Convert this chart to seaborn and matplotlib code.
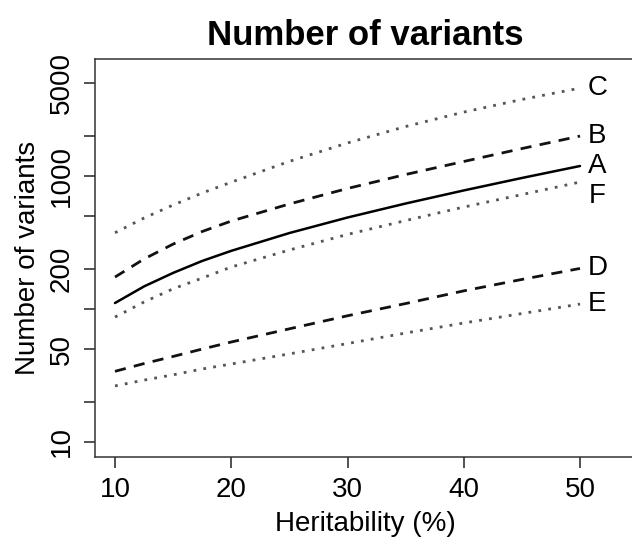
import numpy as np
import matplotlib
matplotlib.use("Agg")
import matplotlib.pyplot as plt
import seaborn as sns
from matplotlib.ticker import FixedLocator, NullLocator

# heritability (%) and number of variants per scenario
heritability = [10, 12.5, 15, 17.5, 20, 25, 30, 35, 40, 45, 50]
series_a = [111, 148, 187, 230, 274, 373, 488, 622, 780, 968, 1191]
series_b = [174, 238, 308, 383, 459, 617, 807, 1028, 1288, 1611, 2000]
series_c = [375, 484, 606, 746, 900, 1290, 1775, 2360, 3030, 3770, 4590]
series_d = [34, 38.9, 44, 50, 56.5, 71, 89, 110, 137, 167, 202]
series_e = [26.4, 29.2, 32, 35.4, 38.6, 46, 55, 66, 78.5, 92.5, 109]
series_f = [87, 113, 142, 171, 207, 278, 364, 463, 585, 726, 902]
names = ["A", "B", "C", "D", "E", "F"]

y_ticks = [10, 20, 50, 100, 200, 500, 1000, 2000, 5000]
y_ticklabels = ["10", "", "50", "", "200", "", "1000", "", "5000"]
x_ticks = [10, 20, 30, 40, 50]

sns.set_style("ticks")
plt.rcParams["font.family"] = ["Liberation Sans", "DejaVu Sans"]
plt.rcParams["text.color"] = "black"
plt.rcParams["axes.labelcolor"] = "black"
plt.rcParams["xtick.color"] = "black"
plt.rcParams["ytick.color"] = "black"

fig = plt.figure(figsize=(6.32, 5.47), dpi=100)
ax = fig.add_axes([95 / 632, 1 - 457 / 547, 540 / 632, 398 / 547])

styles = {
    "A": dict(color="black", linestyle="-", lw=1.8),
    "B": dict(color="#111111", linestyle=(0, (4, 3)), lw=2.0),
    "C": dict(color="#555555", linestyle=(0, (1, 2.6)), lw=2.0),
    "D": dict(color="#111111", linestyle=(0, (4, 3)), lw=2.0),
    "E": dict(color="#555555", linestyle=(0, (1, 2.6)), lw=2.0),
    "F": dict(color="#555555", linestyle=(0, (1, 2.6)), lw=2.0),
}
data = dict(zip(names, [series_a, series_b, series_c, series_d, series_e, series_f]))

for n in names:
    sns.lineplot(x=heritability, y=data[n], ax=ax, **styles[n])
    # F label is nudged down so it does not collide with A
    ly = data[n][-1] * (0.78 if n == "F" else 1.0)
    ax.text(51.5, ly, n, ha="center", va="center", fontsize=20)

ax.set_yscale("log")
ax.set_xlim(8.28, 54.73)
ax.set_ylim(7.71, 7600)
ax.yaxis.set_major_locator(FixedLocator(y_ticks))
ax.yaxis.set_minor_locator(NullLocator())
ax.set_yticklabels(y_ticklabels)
ax.set_xticks(x_ticks)
ax.set_xticklabels([str(v) for v in x_ticks])

ax.tick_params(axis="both", labelsize=20, length=8, width=1.1, pad=6.5,
               color="#222222", labelcolor="black")
ax.tick_params(axis="y", labelrotation=90)
plt.setp(ax.get_yticklabels(), va="center")

for s in ["left", "bottom", "top"]:
    ax.spines[s].set_linewidth(1.1)
    ax.spines[s].set_color("#333333")
ax.spines["right"].set_visible(False)

ax.set_xlabel("Heritability (%)", fontsize=20, labelpad=6)
ax.set_ylabel("Number of variants", fontsize=20, labelpad=6)
ax.set_title("Number of variants", fontsize=25, fontweight="bold", pad=10)

fig.savefig("out.png", dpi=100)
